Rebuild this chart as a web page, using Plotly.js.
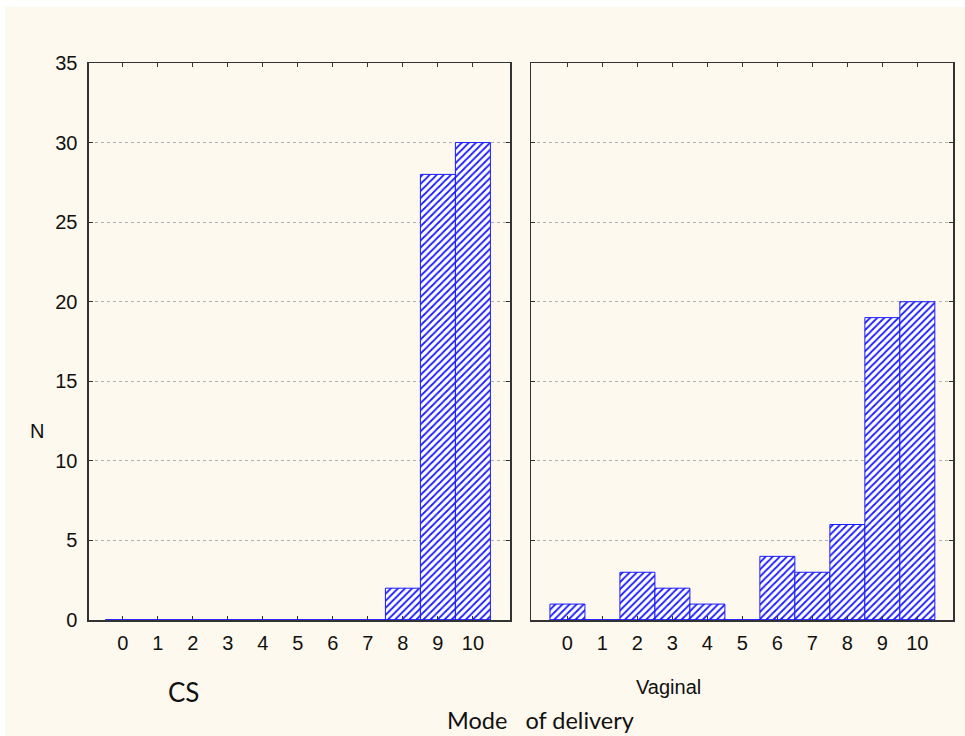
<!DOCTYPE html>
<html>
<head>
<meta charset="utf-8">
<script src="https://cdn.plot.ly/plotly-3.0.1.min.js"></script>
<style>html,body{margin:0;padding:0;background:#fff;}#chart{width:965px;height:736px;}</style>
</head>
<body>
<div id="chart"></div>
<script>
var categories = [0, 1, 2, 3, 4, 5, 6, 7, 8, 9, 10];
var csValues = [0, 0, 0, 0, 0, 0, 0, 0, 2, 28, 30];
var vaginalValues = [1, 0, 3, 2, 1, 0, 4, 3, 6, 19, 20];
var yTicks = [0, 5, 10, 15, 20, 25, 30, 35];
var panelLabels = ['CS', 'Vaginal'];
var xTitle = 'Mode\u00a0\u00a0\u00a0of delivery';
var yTitle = 'N';

var blue = '#1a1aff';
function barTrace(vals, xa, ya) {
  return {
    type: 'bar', x: categories, y: vals, xaxis: xa, yaxis: ya,
    width: 1,
    marker: {
      color: '#ffffff',
      line: {color: blue, width: 1},
      pattern: {shape: '/', fgcolor: blue, bgcolor: '#ffffff', size: 5, solidity: 0.35}
    },
    hoverinfo: 'skip', showlegend: false
  };
}

var arial = 'Liberation Sans, Arial, sans-serif';
var axisFont = {family: arial, size: 20, color: '#111'};
function xAxis(domain, range, ya) {
  return {
    domain: domain, range: range, tickvals: categories, ticktext: categories.map(String),
    ticks: 'inside', ticklen: 4, tickcolor: '#333', mirror: 'allticks',
    showline: true, linecolor: '#333', linewidth: 1.5, showgrid: false, zeroline: false,
    tickfont: axisFont, ticklabelstandoff: 4, anchor: ya
  };
}

var x0 = categories[0] - 0.5, x1 = categories[categories.length - 1] + 0.5;

var layout = {
  width: 965, height: 736,
  margin: {l: 0, r: 0, t: 0, b: 0},
  paper_bgcolor: '#ffffff', plot_bgcolor: '#ffffff',
  bargap: 0,
  font: {family: arial},
  xaxis: xAxis([0.0922, 0.5285], [-0.97, 11.06], 'y'),
  xaxis2: xAxis([0.5503, 0.9876], [-1.04, 11.02], 'y2'),
  yaxis: {
    domain: [0.1576, 0.9144], range: [0, 35], tickvals: yTicks,
    ticks: 'inside', ticklen: 4, tickcolor: '#333', mirror: 'allticks',
    showline: true, linecolor: '#333', linewidth: 1.5,
    showgrid: true, gridcolor: '#b0b0b0', griddash: 'dot', gridwidth: 1, zeroline: false,
    tickfont: axisFont, ticklabelstandoff: 6, anchor: 'x'
  },
  yaxis2: {
    domain: [0.1576, 0.9144], range: [0, 35], tickvals: yTicks,
    ticks: 'inside', ticklen: 4, tickcolor: '#333', mirror: 'allticks',
    showline: true, linecolor: '#333', linewidth: 1.5, showticklabels: false,
    showgrid: true, gridcolor: '#b0b0b0', griddash: 'dot', gridwidth: 1, zeroline: false,
    anchor: 'x2'
  },
  shapes: [
    {type: 'rect', xref: 'paper', yref: 'paper', x0: 5/965, x1: 1, y0: 0, y1: 1 - 7/736,
     fillcolor: '#fef9ee', line: {width: 0}, layer: 'below'},
    {type: 'line', xref: 'x', yref: 'y', x0: x0, x1: x1, y0: 0, y1: 0,
     line: {color: blue, width: 1.5}, layer: 'above'},
    {type: 'line', xref: 'x2', yref: 'y2', x0: x0, x1: x1, y0: 0, y1: 0,
     line: {color: blue, width: 1.5}, layer: 'above'}
  ],
  annotations: [
    {text: yTitle, xref: 'paper', yref: 'paper', x: 37/965, y: 1 - 431/736, showarrow: false,
     xanchor: 'center', yanchor: 'middle',
     font: {family: arial, size: 20, color: '#111'}},
    {text: panelLabels[0], xref: 'paper', yref: 'paper', x: 183/965, y: 1 - 692/736, showarrow: false,
     xanchor: 'center', yanchor: 'middle',
     font: {family: 'Lato, Noto Sans, sans-serif', size: 26, color: '#111'}},
    {text: panelLabels[1], xref: 'paper', yref: 'paper', x: 668/965, y: 1 - 687/736, showarrow: false,
     xanchor: 'center', yanchor: 'middle',
     font: {family: arial, size: 20, color: '#111'}},
    {text: xTitle, xref: 'paper', yref: 'paper', x: 540/965, y: 1 - 720/736, showarrow: false,
     xanchor: 'center', yanchor: 'middle',
     font: {family: 'Lato, Noto Sans, sans-serif', size: 23.5, color: '#111'}}
  ]
};

var data = [barTrace(csValues, 'x', 'y'), barTrace(vaginalValues, 'x2', 'y2')];
Plotly.newPlot('chart', data, layout, {displayModeBar: false, staticPlot: true});
</script>
</body>
</html>
